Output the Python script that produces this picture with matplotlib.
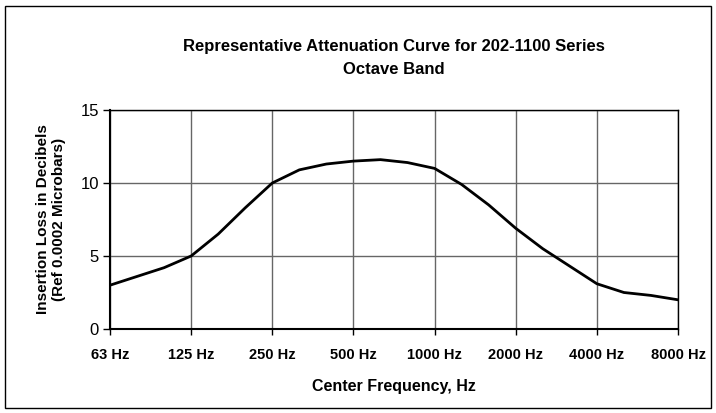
import matplotlib
matplotlib.use("Agg")
import matplotlib.pyplot as plt
from matplotlib.patches import Rectangle

plt.rcParams['font.family'] = ['Liberation Sans', 'DejaVu Sans']

# 1/3-octave band centre frequencies (Hz) and insertion loss (dB)
bands = ["63", "80", "100", "125", "160", "200", "250", "315", "400", "500", "630",
         "800", "1000", "1250", "1600", "2000", "2500", "3150", "4000", "5000", "6300", "8000"]
loss = [3.0, 3.6, 4.2, 5.0, 6.5, 8.3, 10.0, 10.9, 11.3, 11.5, 11.6,
        11.4, 11.0, 9.9, 8.5, 6.9, 5.5, 4.3, 3.1, 2.5, 2.3, 2.0]
octave_labels = ["63 Hz", "125 Hz", "250 Hz", "500 Hz", "1000 Hz", "2000 Hz", "4000 Hz", "8000 Hz"]
y_ticks = [0, 5, 10, 15]

fig = plt.figure(figsize=(7.16, 4.13), dpi=100)
fig.patch.set_facecolor('white')
fig.add_artist(Rectangle((5/716, 5/413), 706/716, 402/413, transform=fig.transFigure,
                         fill=False, edgecolor='black', linewidth=1.0))

ax = fig.add_axes([110/716, 1 - 329/413, 568/716, 219/413])
x = list(range(len(bands)))
ax.plot(x, loss, color='black', linewidth=2.0, solid_joinstyle='round', zorder=3)

ax.set_xlim(0, len(bands) - 1)
ax.set_ylim(0, 15)
ax.set_xticks(x[::3])
ax.set_xticklabels(octave_labels, fontweight='bold', fontsize=10.5)
ax.set_yticks(y_ticks)
ax.set_yticklabels([str(v) for v in y_ticks], fontsize=12)
ax.tick_params(axis='y', direction='out', length=5, width=1, pad=3)
ax.tick_params(axis='x', direction='out', length=4, width=1, pad=10)

ax.grid(True, color='#666666', linewidth=1.0)
for s in ax.spines.values():
    s.set_color('black')
    s.set_linewidth(1.0)
ax.spines['left'].set_linewidth(1.5)
ax.spines['bottom'].set_linewidth(1.5)

ax.set_xlabel("Center Frequency, Hz", fontweight='bold', fontsize=11.5, labelpad=12)
ax.set_ylabel("Insertion Loss in Decibels\n(Ref 0.0002 Microbars)", fontweight='bold',
              fontsize=11, labelpad=10)

fig.text(394/716, 1 - 47/413, "Representative Attenuation Curve for 202-1100 Series",
         ha='center', va='center', fontweight='bold', fontsize=12)
fig.text(394/716, 1 - 69/413, "Octave Band", ha='center', va='center',
         fontweight='bold', fontsize=12)

fig.savefig("out.png", dpi=100)
